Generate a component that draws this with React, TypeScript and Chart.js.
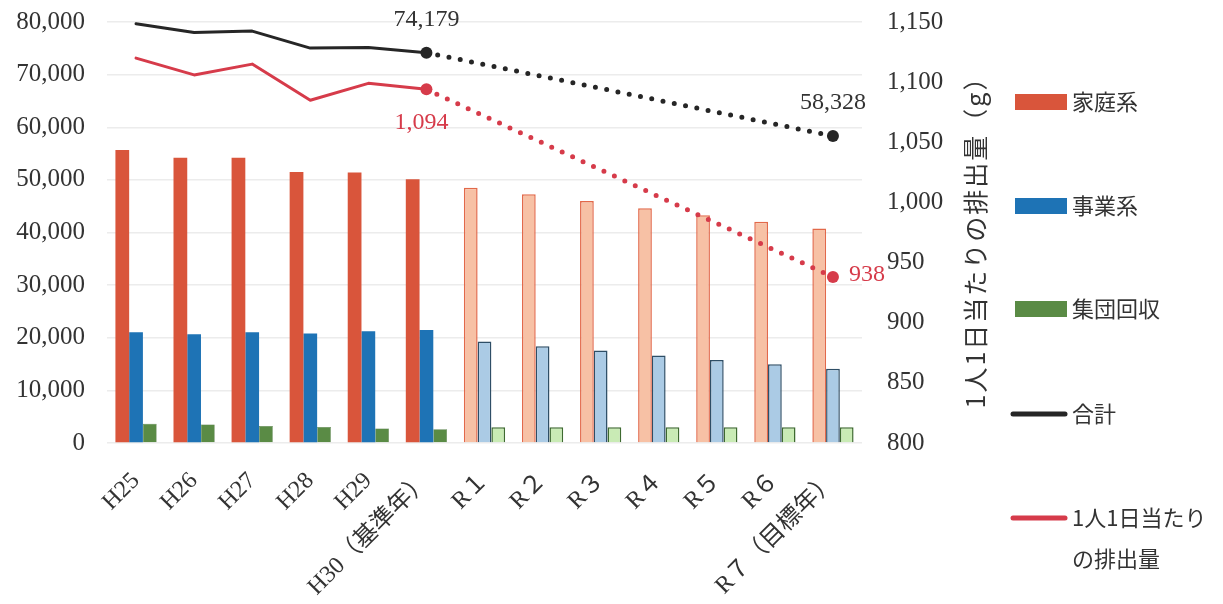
import { useEffect, useRef } from "react";
import { Chart, registerables } from "chart.js";

Chart.register(...registerables);

// 年度
const categories = [
  "H25", "H26", "H27", "H28", "H29", "H30（基準年）",
  "R１", "R２", "R３", "R４", "R５", "R６", "R７（目標年）",
];
// 実績年度の数（H25〜H30）、以降は計画値
const actualCount = 6;

// ごみ排出量（t）
const household = [55700, 54200, 54200, 51500, 51400, 50100, 48500, 47250, 46000, 44600, 43300, 42050, 40750];
const business = [21050, 20650, 21050, 20800, 21250, 21450, 19300, 18400, 17600, 16650, 15750, 14950, 14100];
const collection = [3650, 3500, 3250, 3050, 2750, 2600, 3000, 3000, 3000, 3000, 3000, 3000, 3000];

// 合計（t）: 実績と目標年のみ
const totals: (number | null)[] = [79660, 78000, 78270, 75040, 75150, 74179, null, null, null, null, null, null, 58328];
// 1人1日当たりの排出量（g）
const perCapita: (number | null)[] = [1120, 1106, 1115, 1085, 1099, 1094, null, null, null, null, null, null, 938];

// 軸目盛
const leftTicks = [0, 10000, 20000, 30000, 40000, 50000, 60000, 70000, 80000];
const rightTicks = [800, 850, 900, 950, 1000, 1050, 1100, 1150];

// 値ラベルを付ける年度（基準年・目標年）
const labeledIndexes = [5, 12];

const SERIF = '"Liberation Serif", "Noto Sans CJK JP", serif';
const JP = '"Noto Sans CJK JP", sans-serif';

const W = 1207;
const H = 588;

const RED = "#D9553B";
const RED_LIGHT = "#F7C1A5";
const RED_EDGE = "#E2694A";
const BLUE = "#1E73B5";
const BLUE_LIGHT = "#ABCBE5";
const BLUE_EDGE = "#2E4E66";
const GREEN = "#5A8B45";
const GREEN_LIGHT = "#C9EBB5";
const GREEN_EDGE = "#3E6A30";
const LINE_BLACK = "#262626";
const LINE_RED = "#D63B4A";

const fmt = (v: number) => v.toLocaleString("en-US");

const split = (solid: string, light: string) =>
  categories.map((_, i) => (i < actualCount ? solid : light));

const valueLabels = {
  id: "valueLabels",
  afterDatasetsDraw(chart: any) {
    const { ctx } = chart;
    const x = chart.scales.x;
    const yl = chart.scales.y;
    const yr = chart.scales.y1;
    ctx.save();
    ctx.font = `24px ${SERIF}`;
    ctx.textBaseline = "middle";
    labeledIndexes.forEach((i) => {
      const t = totals[i];
      if (t != null) {
        ctx.fillStyle = "#333333";
        ctx.textAlign = "center";
        ctx.fillText(fmt(t), x.getPixelForValue(i), yl.getPixelForValue(t) - 33);
      }
      const p = perCapita[i];
      if (p != null) {
        ctx.fillStyle = LINE_RED;
        const px = x.getPixelForValue(i);
        const py = yr.getPixelForValue(p);
        if (i === categories.length - 1) {
          ctx.textAlign = "left";
          ctx.fillText(fmt(p), px + 16, py - 2);
        } else {
          ctx.textAlign = "center";
          ctx.fillText(fmt(p), px - 5, py + 33);
        }
      }
    });
    ctx.restore();
  },
};

const sideLegend = {
  id: "sideLegend",
  afterDraw(chart: any) {
    const { ctx } = chart;
    const boxX = 1007;
    const boxW = 52;
    const textX = 1064;
    ctx.save();
    ctx.font = `22px ${JP}`;
    ctx.textBaseline = "middle";
    ctx.textAlign = "left";
    const items = [
      { label: "家庭系", color: RED, kind: "box", y: 94 },
      { label: "事業系", color: BLUE, kind: "box", y: 198 },
      { label: "集団回収", color: GREEN, kind: "box", y: 301 },
      { label: "合計", color: LINE_BLACK, kind: "line", y: 406 },
      { label: "1人1日当たり\nの排出量", color: LINE_RED, kind: "line", y: 510 },
    ];
    items.forEach((it) => {
      if (it.kind === "box") {
        ctx.fillStyle = it.color;
        ctx.fillRect(boxX, it.y - 8, boxW, 16);
      } else {
        ctx.strokeStyle = it.color;
        ctx.lineWidth = 5;
        ctx.lineCap = "round";
        ctx.beginPath();
        ctx.moveTo(boxX - 2, it.y);
        ctx.lineTo(boxX + boxW - 2, it.y);
        ctx.stroke();
      }
      ctx.fillStyle = "#333333";
      it.label.split("\n").forEach((line, k) => {
        ctx.fillText(line, textX, it.y + k * 41);
      });
    });

    // 右軸タイトル（縦書き）
    ctx.font = `25px ${JP}`;
    ctx.textAlign = "center";
    (ctx as any).letterSpacing = "2px";
    ctx.translate(967, 228);
    ctx.rotate(-Math.PI / 2);
    ctx.fillText("1人1日当たりの排出量（g）", 0, 0);
    ctx.restore();
  },
};

// 軸ラベルの上下はみ出し分を詰める
const noVerticalPadding = (s: any, width: number) => {
  s.width = width;
  s.paddingTop = 0;
  s.paddingBottom = 0;
};

export default function App() {
  const ref = useRef<HTMLCanvasElement | null>(null);

  useEffect(() => {
    if (!ref.current) return;
    const lineDash = (ctx: any) => (ctx.p0DataIndex >= actualCount - 1 ? [0, 11.5] : undefined);
    const lineWidth = (ctx: any) => (ctx.p0DataIndex >= actualCount - 1 ? 5 : 3);
    const pointR = (ctx: any) => (labeledIndexes.includes(ctx.dataIndex) ? 6 : 0);

    const chart = new Chart(ref.current, {
      type: "bar",
      data: {
        labels: categories,
        datasets: [
          {
            type: "line",
            label: "合計",
            data: totals,
            yAxisID: "y",
            borderColor: LINE_BLACK,
            backgroundColor: LINE_BLACK,
            borderWidth: 3,
            borderCapStyle: "round",
            borderJoinStyle: "round",
            spanGaps: true,
            pointRadius: pointR,
            pointBorderWidth: 0,
            order: 0,
            segment: { borderDash: lineDash, borderWidth: lineWidth },
          },
          {
            type: "line",
            label: "1人1日当たりの排出量",
            data: perCapita,
            yAxisID: "y1",
            borderColor: LINE_RED,
            backgroundColor: LINE_RED,
            borderWidth: 3,
            borderCapStyle: "round",
            borderJoinStyle: "round",
            spanGaps: true,
            pointRadius: pointR,
            pointBorderWidth: 0,
            order: 0,
            segment: { borderDash: lineDash, borderWidth: lineWidth },
          },
          {
            label: "家庭系",
            data: household,
            yAxisID: "y",
            backgroundColor: split(RED, RED_LIGHT),
            borderColor: split(RED, RED_EDGE),
            borderWidth: categories.map((_, i) => (i < actualCount ? 0 : 1.5)),
            order: 1,
          },
          {
            label: "事業系",
            data: business,
            yAxisID: "y",
            backgroundColor: split(BLUE, BLUE_LIGHT),
            borderColor: split(BLUE, BLUE_EDGE),
            borderWidth: categories.map((_, i) => (i < actualCount ? 0 : 1.5)),
            order: 1,
          },
          {
            label: "集団回収",
            data: collection,
            yAxisID: "y",
            backgroundColor: split(GREEN, GREEN_LIGHT),
            borderColor: split(GREEN_EDGE, GREEN_EDGE),
            borderWidth: categories.map((_, i) => (i < actualCount ? 0.5 : 1.5)),
            order: 1,
          },
        ],
      },
      options: {
        responsive: false,
        animation: false,
        devicePixelRatio: 1,
        layout: { padding: { top: 14, right: 223, left: 0, bottom: 0 } },
        datasets: {
          bar: { categoryPercentage: 0.71, barPercentage: 1.0 },
        },
        plugins: {
          legend: { display: false },
          tooltip: { enabled: false },
        },
        scales: {
          x: {
            grid: { display: false },
            border: { display: false },
            ticks: {
              autoSkip: false,
              minRotation: 45,
              maxRotation: 45,
              padding: 16,
              color: "#333333",
              font: { family: SERIF, size: 24 },
            },
            afterFit: (s: any) => {
              s.height = H - 435;
            },
          },
          y: {
            position: "left",
            min: leftTicks[0],
            max: leftTicks[leftTicks.length - 1],
            afterBuildTicks: (s: any) => {
              s.ticks = leftTicks.map((v) => ({ value: v }));
            },
            grid: { color: "#ECECEC", lineWidth: 1.5, drawTicks: false },
            border: { display: false },
            ticks: {
              padding: 22,
              color: "#333333",
              font: { family: SERIF, size: 25 },
              callback: (v: any) => fmt(Number(v)),
            },
            afterFit: (s: any) => noVerticalPadding(s, 99),
          },
          y1: {
            position: "right",
            min: rightTicks[0],
            max: rightTicks[rightTicks.length - 1],
            afterBuildTicks: (s: any) => {
              s.ticks = rightTicks.map((v) => ({ value: v }));
            },
            grid: { display: false, drawTicks: false },
            border: { display: false },
            ticks: {
              padding: 25,
              color: "#333333",
              font: { family: SERIF, size: 25 },
              callback: (v: any) => fmt(Number(v)),
            },
            afterFit: (s: any) => noVerticalPadding(s, 130),
          },
        },
      },
      plugins: [valueLabels, sideLegend],
    } as any);

    return () => chart.destroy();
  }, []);

  return (
    <div style={{ width: W, height: H, background: "#ffffff" }}>
      <canvas ref={ref} width={W} height={H} style={{ width: W, height: H, display: "block" }} />
    </div>
  );
}
